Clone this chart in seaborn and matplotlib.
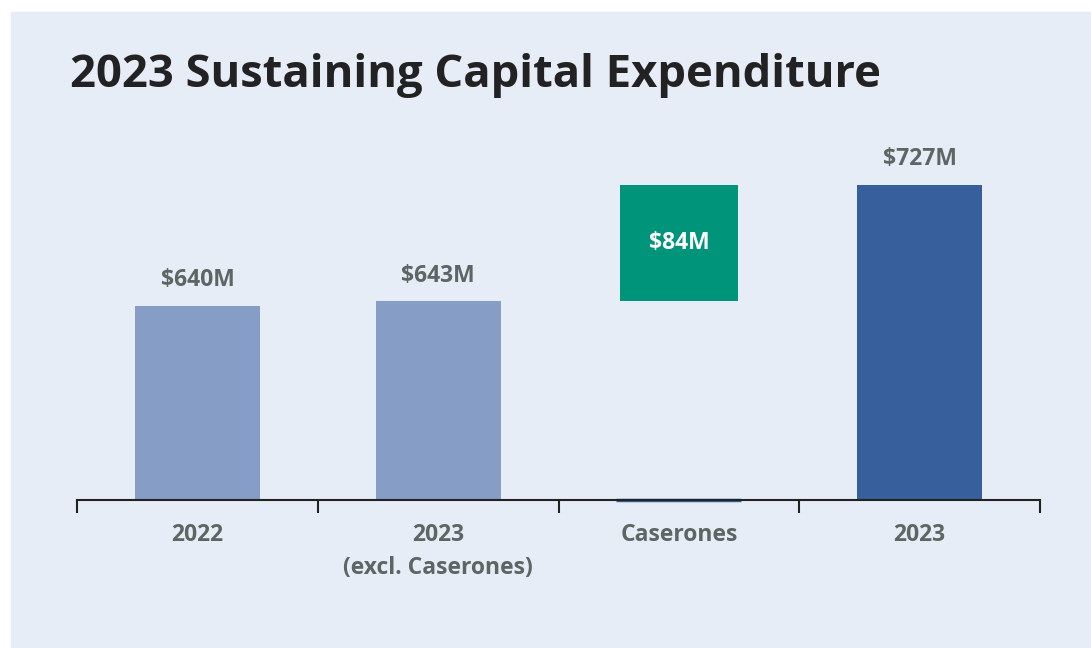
import matplotlib.pyplot as plt
import seaborn as sns
import pandas as pd

categories = ["2022", "2023\n(excl. Caserones)", "Caserones", "2023"]
totals = [640, 643, 0, 727]
step_base = 643
step_value = 84
labels = ["$640M", "$643M", "$84M", "$727M"]

bg = "#e6edf7"
bar_colors = ["#869dc6", "#869dc6", "#365f9c", "#365f9c"]
green = "#00957a"
text_grey = "#5d6663"

sns.set_theme(style="white")
plt.rcParams["font.family"] = ["Open Sans", "DejaVu Sans"]

fig = plt.figure(figsize=(10.91, 6.48), dpi=100)
fig.patch.set_facecolor("white")
# light panel behind everything
fig.add_artist(plt.Rectangle((11 / 1091, 0), 1, 1 - 12 / 648,
                             transform=fig.transFigure, color=bg, zorder=0))

ax = fig.add_axes([77 / 1091, 148 / 648, (1040 - 77) / 1091, (500 - 139) / 648])
ax.set_facecolor("none")

df = pd.DataFrame({"cat": categories, "val": totals})
sns.barplot(data=df, x="cat", y="val", hue="cat", palette=bar_colors,
            width=0.52, legend=False, ax=ax, saturation=1, linewidth=0)

# floating increment bar
ax.bar(2, step_value, bottom=step_base, width=0.49, color=green, zorder=3, linewidth=0)
ax.hlines(500, 2 - 0.26, 2 + 0.26, color="#365f9c", lw=2.5, zorder=1, clip_on=False)

ax.set_ylim(500, 760)
ax.set_xlim(-0.5, 3.5)

for i, v in enumerate(totals):
    if v:
        ax.text(i, v + 10, labels[i], ha="center", va="bottom",
                fontsize=16.5, fontweight="bold", color=text_grey)
ax.text(2, step_base + step_value / 2, labels[2], ha="center", va="center",
        fontsize=16.5, fontweight="bold", color="white", zorder=4)

for s in ["top", "right", "left"]:
    ax.spines[s].set_visible(False)
ax.spines["bottom"].set_color("#222222")
ax.spines["bottom"].set_linewidth(1.5)
ax.set_yticks([])
ax.set_xlabel("")
ax.set_ylabel("")

ax.set_xticks([-0.5, 0.5, 1.5, 2.5, 3.5], minor=False)
ax.set_xticklabels([])
ax.tick_params(axis="x", which="major", bottom=True, length=9, width=1.5,
               color="#222222", direction="out")
for i, c in enumerate(categories):
    ax.text(i, -0.065, c, transform=ax.get_xaxis_transform(), ha="center",
            va="top", fontsize=16.5, fontweight="bold", color=text_grey,
            linespacing=1.45)

fig.text(70 / 1091, 1 - 76 / 648, "2023 Sustaining Capital Expenditure",
         fontsize=32.7, fontweight="bold", color="#222222", va="center",
         family=["Open Sans", "DejaVu Sans"])

fig.savefig("out.png", dpi=100, facecolor="white")
